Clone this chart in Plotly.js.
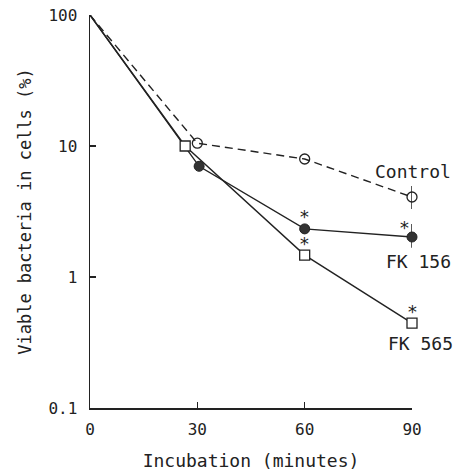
<!DOCTYPE html>
<html><head><meta charset="utf-8">
<script src="https://cdn.plot.ly/plotly-3.0.1.min.js"></script>
<style>html,body{margin:0;padding:0;background:#fff;}#chart{width:459px;height:472px;}</style>
</head><body><div id="chart"></div>
<script>
// Data
const controlX = [0, 30, 60, 90];
const controlY = [100, 10.5, 7.96, 4.08];
const controlErrPlus = [0, 0, 0, 0.87];
const controlErrMinus = [0, 0, 0, 0.78];

const fk156X = [0, 30.5, 60, 90];
const fk156Y = [100, 7.0, 2.33, 2.02];
const fk156ErrPlus = [0, 0, 0, 0.52];
const fk156ErrMinus = [0, 0, 0, 0.35];

const fk565X = [0, 26.6, 60, 90];
const fk565Y = [100, 10.0, 1.47, 0.445];

const yTickVals = [0.1, 1, 10, 100];
const yTickText = ['0.1', '1', '10', '100'];
const xTickVals = [0, 30, 60, 90];
const xTickText = ['0', '30', '60', '90'];

// significance markers: [x, y] of points carrying an asterisk
const starsFK156 = [[60, 2.33], [90, 2.02]];
const starsFK565 = [[60, 1.47], [90, 0.445]];

const FONT = 'DejaVu Sans Mono';
const INK = '#222';
// no marker drawn at the shared starting point (0 min, 100%)
const markerSizes = [0, 10, 10, 10];

const traces = [
  {x: controlX, y: controlY, mode: 'lines+markers', name: 'Control',
   line: {color: INK, width: 1.4, dash: '8px,5px'},
   marker: {symbol: 'circle-open', size: markerSizes, opacity: 1, color: INK, line: {width: 1.3, color: INK}},
   error_y: {type: 'data', symmetric: false, array: controlErrPlus, arrayminus: controlErrMinus, width: 0, thickness: 1.5, color: INK},
   cliponaxis: false},
  {x: fk156X, y: fk156Y, mode: 'lines+markers', name: 'FK 156',
   line: {color: INK, width: 1.4},
   marker: {symbol: 'circle', size: markerSizes, opacity: 1, color: '#333', line: {width: 1, color: INK}},
   error_y: {type: 'data', symmetric: false, array: fk156ErrPlus, arrayminus: fk156ErrMinus, width: 0, thickness: 1.5, color: INK},
   cliponaxis: false},
  {x: fk565X, y: fk565Y, mode: 'lines+markers', name: 'FK 565',
   line: {color: INK, width: 1.4},
   marker: {symbol: 'square', size: markerSizes, opacity: 1, color: '#fff', line: {width: 1.3, color: INK}},
   cliponaxis: false}
];

const annotations = [];
const starOffsets156 = [[0, 12], [-8, 10]];
starsFK156.forEach((p, i) => annotations.push({x: p[0], y: Math.log10(p[1]), xref: 'x', yref: 'y', text: '*', showarrow: false,
  xshift: starOffsets156[i][0], yshift: starOffsets156[i][1], font: {family: FONT, size: 18, color: INK}}));
starsFK565.forEach(p => annotations.push({x: p[0], y: Math.log10(p[1]), xref: 'x', yref: 'y', text: '*', showarrow: false,
  xshift: 0, yshift: 12, font: {family: FONT, size: 18, color: INK}}));
annotations.push({x: controlX[3], y: Math.log10(controlY[3]), xref: 'x', yref: 'y', text: 'Control', showarrow: false,
  xshift: 1, yshift: 26, font: {family: FONT, size: 18, color: INK}});
annotations.push({x: fk156X[3], y: Math.log10(fk156Y[3]), xref: 'x', yref: 'y', text: 'FK 156', showarrow: false,
  xshift: 6, yshift: -24, font: {family: FONT, size: 18, color: INK}});
annotations.push({x: fk565X[3], y: Math.log10(fk565Y[3]), xref: 'x', yref: 'y', text: 'FK 565', showarrow: false,
  xshift: 8, yshift: -20, font: {family: FONT, size: 18, color: INK}});

const layout = {
  width: 459, height: 472,
  margin: {l: 90, r: 47, t: 15, b: 64},
  paper_bgcolor: '#fff', plot_bgcolor: '#fff',
  showlegend: false,
  font: {family: FONT, color: INK},
  xaxis: {range: [0, 90], tickvals: xTickVals, ticktext: xTickText, ticks: 'inside', ticklen: 6, tickwidth: 1.5, tickcolor: INK,
    showline: true, linecolor: INK, linewidth: 1.5, showgrid: false, zeroline: false,
    ticklabelstandoff: 6,
    tickfont: {family: FONT, size: 16, color: INK},
    title: {text: 'Incubation (minutes)', font: {family: FONT, size: 18, color: INK}, standoff: 16}},
  yaxis: {type: 'log', range: [-1, 2], tickvals: yTickVals, ticktext: yTickText, ticks: 'inside', ticklen: 6, tickwidth: 1.5, tickcolor: INK,
    showline: true, linecolor: INK, linewidth: 1.5, showgrid: false, zeroline: false,
    ticklabelstandoff: 8,
    tickfont: {family: FONT, size: 16, color: INK},
    title: {text: 'Viable bacteria in cells (%)', font: {family: FONT, size: 17, color: INK}, standoff: 12}},
  annotations: annotations
};

Plotly.newPlot('chart', traces, layout, {displayModeBar: false, staticPlot: true});
</script>
</body></html>
